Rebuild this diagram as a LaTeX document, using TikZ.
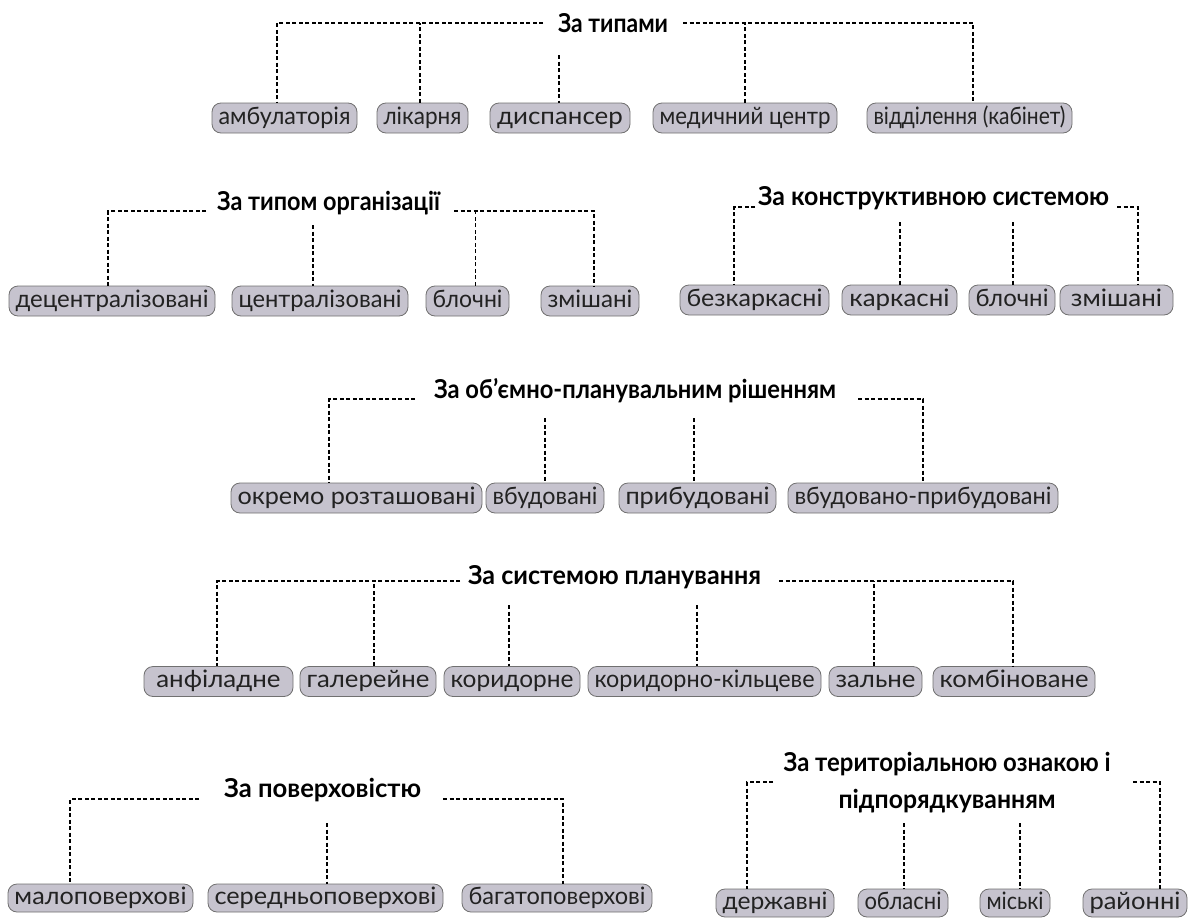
\documentclass[tikz,border=0pt]{standalone}
\usepackage{fontspec}
\usepackage{graphicx}
\setmainfont{Lato}
\usetikzlibrary{calc}
\definecolor{boxfill}{HTML}{C6C3CE}
\definecolor{boxline}{HTML}{707070}
\definecolor{boxtext}{HTML}{222222}
\newlength\fitlen
\newcommand\fitto[2]{\settowidth\fitlen{#2}\scalebox{\fpeval{min((#1)/\fitlen,1.08)}}[1]{#2}}
\tikzset{
  box/.style={draw=boxline, fill=boxfill, rounded corners=9pt, line width=0.8pt,
    minimum height=30pt, inner sep=0pt, text=boxtext, text height=17pt, text depth=5pt,
    font=\fontsize{24}{26}\selectfont},
  head/.style={font=\bfseries\fontsize{26}{37}\selectfont, inner sep=0pt, align=center},
  dl/.style={dash pattern=on 4pt off 2.5pt, line width=1.2pt}
}
% \bx{name}{x}{y}{box width}{text}
\newcommand\bx[5]{\node[box, minimum width=#4pt] (#1) at (#2,#3) {\fitto{#4-13}{#5}};}
\newcommand\by[5]{\node[box, minimum width=#4pt, minimum height=28pt] (#1) at (#2,#3) {\fitto{#4-13}{#5}};}
\begin{document}
\begin{tikzpicture}[x=1pt,y=-1pt]
\useasboundingbox (0,0) rectangle (1189,918);

% ---------- Row 1: За типами ----------
\node[head] (h1) at (613,23) {\fitto{110}{За типами}};
\bx{a1}{284.5}{118}{145}{амбулаторія}
\bx{a2}{422.5}{118}{91}{лікарня}
\bx{a3}{560}{118}{140}{диспансер}
\bx{a4}{745}{118}{184}{медичний центр}
\bx{a5}{969.5}{118}{205}{відділення (кабінет)}
\coordinate (h1l) at (543,23);
\coordinate (h1r) at (683,23);
\coordinate (h1m) at (559,55);
\draw[dl] (h1l) -| ([xshift=-7.5pt]a1.north);
\draw[dl] ([xshift=-2.5pt]a2.north) -- ([xshift=-2.5pt]a2.north |- h1l);
\draw[dl] (h1m) -- (a3.north -| h1m);
\draw[dl] (h1r) -| ([xshift=3.5pt]a5.north);
\draw[dl] (a4.north) -- (a4.north |- h1r);

% ---------- Row 2 left: За типом організації ----------
\node[head] (h2) at (328.5,203) {\fitto{223}{За типом організації}};
\bx{b1}{112}{301}{206}{децентралізовані}
\bx{b2}{320}{301}{176}{централізовані}
\bx{b3}{467.5}{301}{83}{блочні}
\bx{b4}{590}{301}{98}{змішані}
\coordinate (h2l) at (206,211);
\coordinate (h2r) at (454,211);
\coordinate (h2m) at (313,225);
\draw[dl] (h2l) -| ([xshift=-4pt]b1.north);
\draw[dl] (h2m) -- (b2.north -| h2m);
\draw[dl] (h2r) -| ([xshift=4pt]b4.north);
\draw[dl] ([xshift=8pt]b3.north) -- ([xshift=8pt]b3.north |- h2r);

% ---------- Row 2 right: За конструктивною системою ----------
\node[head] (h3) at (933.5,198) {\fitto{351}{За конструктивною системою}};
\bx{c1}{754.5}{300}{149}{безкаркасні}
\bx{c2}{899.5}{300}{115}{каркасні}
\bx{c3}{1012}{300}{86}{блочні}
\bx{c4}{1116.5}{300}{113}{змішані}
\coordinate (h3l) at (755,207);
\coordinate (h3r) at (1117,207);
\coordinate (h3m1) at (900,222);
\coordinate (h3m2) at (1013,222);
\draw[dl] (h3l) -| ([xshift=-20.5pt]c1.north);
\draw[dl] (h3r) -| ([xshift=21.5pt]c4.north);
\draw[dl] (h3m1) -- (c2.north -| h3m1);
\draw[dl] (h3m2) -- (c3.north -| h3m2);

% ---------- Row 3: За об'ємно-планувальним рішенням ----------
\node[head] (h4) at (635,391) {\fitto{402}{За об’ємно-планувальним рішенням}};
\bx{d1}{356.5}{498}{251}{окремо розташовані}
\bx{d2}{545}{498}{118}{вбудовані}
\bx{d3}{697.5}{498}{157}{прибудовані}
\bx{d4}{923}{498}{270}{вбудовано-прибудовані}
\coordinate (h4l) at (415,399);
\coordinate (h4r) at (858,399);
\coordinate (h4m1) at (545,418);
\coordinate (h4m2) at (694,418);
\draw[dl] (h4l) -| ([xshift=-27.5pt]d1.north);
\draw[dl] (h4r) -| (d4.north);
\draw[dl] (h4m1) -- (d2.north -| h4m1);
\draw[dl] (h4m2) -- (d3.north -| h4m2);

% ---------- Row 4: За системою планування ----------
\node[head] (h5) at (614.5,577) {\fitto{293}{За системою планування}};
\bx{e1}{218.5}{681.5}{149}{анфіладне}
\bx{e2}{368}{681.5}{136}{галерейне}
\bx{e3}{512}{681.5}{136}{коридорне}
\bx{e4}{704.5}{681.5}{233}{коридорно-кільцеве}
\bx{e5}{875.5}{681.5}{93}{зальне}
\bx{e6}{1014}{681.5}{162}{комбіноване}
\coordinate (h5l) at (460,581);
\coordinate (h5r) at (779,581);
\coordinate (h5m1) at (509,605);
\coordinate (h5m2) at (697,605);
\draw[dl] (h5l) -| ([xshift=-1.5pt]e1.north);
\draw[dl] ([xshift=6pt]e2.north) -- ([xshift=6pt]e2.north |- h5l);
\draw[dl] (h5m1) -- (e3.north -| h5m1);
\draw[dl] (h5m2) -- (e4.north -| h5m2);
\draw[dl] (h5r) -| ([xshift=-1pt]e6.north);
\draw[dl] ([xshift=-1.5pt]e5.north) -- ([xshift=-1.5pt]e5.north |- h5r);

% ---------- Row 5 left: За поверховістю ----------
\node[head] (h6) at (322.5,790) {\fitto{197}{За поверховістю}};
\by{f1}{100.5}{898}{185}{малоповерхові}
\by{f2}{325.5}{898}{235}{середньоповерхові}
\by{f3}{557}{898}{190}{багатоповерхові}
\coordinate (h6l) at (199,799);
\coordinate (h6r) at (443,799);
\coordinate (h6m) at (327,823);
\draw[dl] (h6l) -| ([xshift=-30.5pt]f1.north);
\draw[dl] (h6r) -| ([xshift=6pt]f3.north);
\draw[dl] (h6m) -- (f2.north -| h6m);

% ---------- Row 5 right: За територіальною ознакою і підпорядкуванням ----------
\node[head] (h7) at (947,783) {\fitto{327}{За територіальною ознакою і}\\\fitto{217}{підпорядкуванням}};
\by{g1}{775}{903}{118}{державні}
\by{g2}{903}{903}{90}{обласні}
\by{g3}{1015}{903}{70}{міські}
\by{g4}{1135}{903}{104}{районні}
\coordinate (h7l) at (773,782);
\coordinate (h7r) at (1133,782);
\coordinate (h7m1) at (904,823);
\coordinate (h7m2) at (1020,823);
\draw[dl] (h7l) -| ([xshift=-28pt]g1.north);
\draw[dl] (h7r) -| ([xshift=25pt]g4.north);
\draw[dl] (h7m1) -- (g2.north -| h7m1);
\draw[dl] (h7m2) -- (g3.north -| h7m2);
\end{tikzpicture}
\end{document}
